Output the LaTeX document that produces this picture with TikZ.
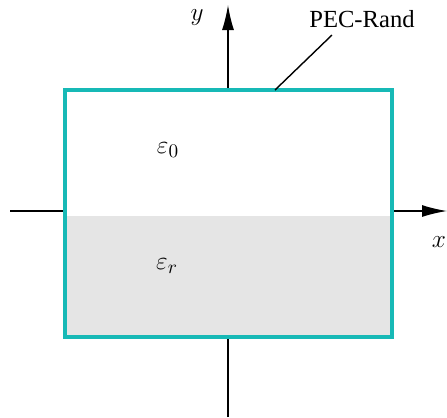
\documentclass[tikz,border=0pt]{standalone}
\usepackage{fontspec}
\setmainfont{Liberation Serif}
\usepackage{tikz}
\usetikzlibrary{arrows.meta, positioning}
\definecolor{pecborder}{HTML}{17B9B6}
\definecolor{dielectric}{HTML}{E5E5E5}
\tikzset{
    axis/.style={line width=0.8pt, -{Latex[length=0.5cm, width=0.24cm]}},
    boundary/.style={rectangle, draw=pecborder, line width=2.3pt, minimum width=6.54cm, minimum height=4.94cm, inner sep=0pt},
    label/.style={font=\fontsize{14}{16}\selectfont, inner sep=1pt},
    leader/.style={line width=0.8pt}
}
\begin{document}
\begin{tikzpicture}[x=0.02cm, y=-0.02cm]
    \useasboundingbox (0,0) rectangle (447,417);
    % Axes
    \coordinate (xstart) at (10,211);
    \coordinate (xend) at (447,211);
    \coordinate (ystart) at (228,417);
    \coordinate (yend) at (228,5);
    \draw [axis] (xstart) -- (xend);
    \draw [axis] (ystart) -- (yend);
    \node [label] (xlab) at (439,242) {$x$};
    \node [label] (ylab) at (197,18) {$y$};

    % Waveguide cross section
    \fill [white] (65,90) rectangle (392,337);
    \fill [dielectric] (65,216) rectangle (392,337);
    \node [boundary] (guide) at (228.5,213.5) {};
    \node [label, font=\fontsize{15}{17}\selectfont] (eps0) at (168,150) {$\varepsilon_0$};
    \node [label, font=\fontsize{15}{17}\selectfont] (epsr) at (167,266) {$\varepsilon_r$};

    % PEC label
    \node [label] (pec) at (362,19) {PEC-Rand};
    \coordinate (pectop) at (275,90);
    \coordinate (pecend) at (332,35);
    \draw [leader] (pectop) -- (pecend);
\end{tikzpicture}
\end{document}
